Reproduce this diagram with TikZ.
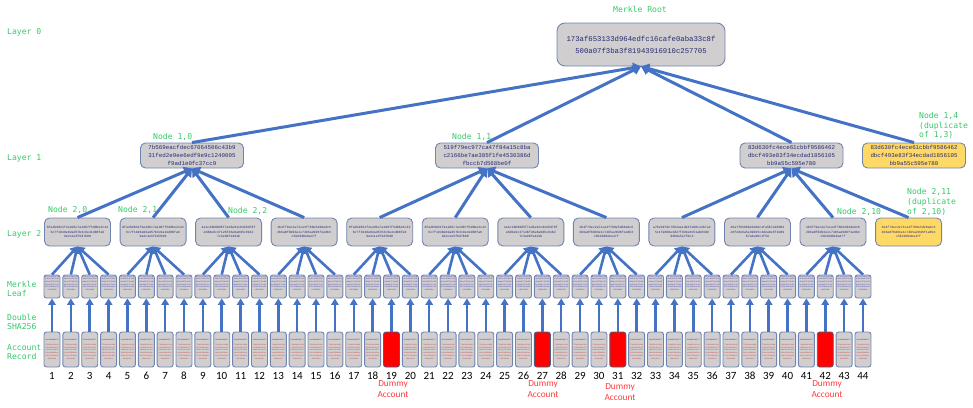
\documentclass[tikz,border=0pt]{standalone}
\usepackage{fontspec}
\setmainfont{Carlito}
\newfontfamily\monof{DejaVu Sans Mono}
\newfontfamily\hashf{Liberation Mono}
\usetikzlibrary{arrows.meta}
\definecolor{lbl}{RGB}{55,200,105}
\definecolor{boxfill}{RGB}{208,206,206}
\definecolor{boxline}{RGB}{112,132,178}
\definecolor{arr}{RGB}{68,114,196}
\definecolor{hash}{RGB}{40,40,115}
\definecolor{leaftxt}{RGB}{80,70,170}
\definecolor{yel}{RGB}{255,217,102}
\definecolor{dum}{RGB}{255,0,0}
\definecolor{dumtxt}{RGB}{255,60,60}
\definecolor{rectxt}{RGB}{210,60,60}
\begin{document}
\begin{tikzpicture}[x=1pt,y=-1pt,
  hbox/.style={draw=boxline, fill=boxfill, line width=0.9pt, inner sep=0pt, align=center, text=hash},
  rootbox/.style={hbox, rounded corners=8pt, minimum width=168pt, minimum height=43pt, font=\hashf\fontsize{7.3}{12}\selectfont},
  onebox/.style={hbox, rounded corners=5pt, minimum width=103pt, minimum height=25pt, font=\hashf\fontsize{5.8}{8}\selectfont},
  twobox/.style={hbox, rounded corners=5pt, minimum width=66pt, minimum height=28pt, font=\hashf\fontsize{3.2}{4.6}\selectfont},
  leafbox/.style={hbox, rounded corners=2.5pt, minimum width=16pt, minimum height=23pt, text=leaftxt, font=\hashf\fontsize{1.9}{2.7}\selectfont},
  recbox/.style={hbox, rounded corners=2.5pt, minimum width=16pt, minimum height=35pt, font=\hashf\fontsize{1.8}{2.8}\selectfont},
  dumbox/.style={recbox, fill=dum, draw=boxline!70!black},
  lbltext/.style={text=lbl, font=\monof\fontsize{8.1}{9.8}\selectfont, align=left, anchor=west, inner sep=0pt},
  numtext/.style={font=\fontsize{11}{12}\selectfont, inner sep=0pt},
  dumlbl/.style={text=dumtxt, font=\fontsize{9.3}{10.5}\selectfont, align=center, inner sep=0pt},
  bigarrow/.style={draw=arr, line width=3pt, -{Triangle[length=8pt,width=10pt]}},
  midarrow/.style={draw=arr, line width=2.6pt, -{Triangle[length=7pt,width=8.5pt]}},
  smallarrow/.style={draw=arr, line width=2.5pt, -{Triangle[length=6.5pt,width=7.5pt]}}
]
\useasboundingbox (0,0) rectangle (973,407);

% ---------- Layer 0 ----------
\node[rootbox] (root) at (641,44.5) {173af653133d964edfc16cafe0aba33c8f\\500a07f3ba3f81943916910c257705};
\node[lbltext, anchor=center] (rootlbl) at (640,9.5) {Merkle Root};

% ---------- Layer 1 ----------
\node[onebox] (p0) at (192,155.5) {7b569eacfdec67064506c43b9\\31fed2e9ee6edf9e9c1240005\\f9ad1e0fc37cc9};
\node[onebox] (p1) at (487,155.5) {519f79ec977ca47f84a15c8ba\\c2166be7ae385f1fe4530386d\\fbccb7d568be0f};
\node[onebox] (p3) at (791.5,155.5) {83d630fc4ece61cbbf9586462\\dbcf493e83f34ecdad1856105\\bb9a55c595e780};
\node[onebox, fill=yel] (p4) at (914,155.5) {83d630fc4ece61cbbf9586462\\dbcf493e83f34ecdad1856105\\bb9a55c595e780};

% ---------- Layer 2 ----------
\node[twobox] (m0) at (77.5,232) {8fa2b9831f4e2d6c7a1907f5d8be3c42\\6c7f1948e02ad57b3c9e41d08fa6\\9a3c1e5f6d7b08};
\node[twobox] (m1) at (153.05,232) {8fa2b9831f4e2d6c7a1907f5d8be3c42\\6c7f1948e02ad57b3c9e41d08fa6\\9a3c1e5f6d7b08};
\node[twobox] (m2) at (228.6,232) {4e1c29b08d5f7a36e91c042bd78f\\a5d0e9c3712bf46e8a0d5c91b2\\7c3e90fa4d1b};
\node[twobox] (m3) at (304.15,232) {1b4f79ec2e71ca3f7b0e5d28a9c6\\2b6a0f8d93e1c74b5a20d6f1e8b3\\c5b29d0eba47f};
\node[twobox] (m4) at (379.7,232) {8fa2b9831f4e2d6c7a1907f5d8be3c42\\6c7f1948e02ad57b3c9e41d08fa6\\9a3c1e5f6d7b08};
\node[twobox] (m5) at (455.25,232) {8fa2b9831f4e2d6c7a1907f5d8be3c42\\6c7f1948e02ad57b3c9e41d08fa6\\9a3c1e5f6d7b08};
\node[twobox] (m6) at (530.8,232) {4e1c29b08d5f7a36e91c042bd78f\\a5d0e9c3712bf46e8a0d5c91b2\\7c3e90fa4d1b};
\node[twobox] (m7) at (606.35,232) {1b4f79ec2e71ca3f7b0e5d28a9c6\\2b6a0f8d93e1c74b5a20d6f1e8b3\\c5b29d0eba47f};
\node[twobox] (m8) at (681.9,232) {a76218f9c75b3ae1d94fe08c13b7a2\\5c1fa0b8e3d27f946e0c51ab83d9\\d2b8e5a7f0c3};
\node[twobox] (m9) at (757.45,232) {25a7f826b0e3d94c1fa5b7e20d83\\c8f2d16a5e39b07c4d2a8e5f1b09\\b7a4e06c1f59};
\node[twobox] (m10) at (833,232) {1b4f79ec2e71ca3f7b0e5d28a9c6\\2b6a0f8d93e1c74b5a20d6f1e8b3\\c5b29d0eba47f};
\node[twobox, fill=yel] (m11) at (908.55,232) {1b4f79ec2e71ca3f7b0e5d28a9c6\\2b6a0f8d93e1c74b5a20d6f1e8b3\\c5b29d0eba47f};

% ---------- Leaves, records, numbers ----------
\foreach \i in {1,...,44}{
  \pgfmathsetmacro\xx{52+(\i-1)*18.86}
  \pgfmathtruncatemacro\dm{or(or(\i==19,\i==27),or(\i==31,\i==42))}
  \node[leafbox] (l\i) at (\xx,286.5) {3fa9c21be07d\\5a6c91b4f028\\d6ae33715c08\\be94a2f17c3e\\90fa4d1b6e2a\\c5b29d0e\\[4pt]};
  \ifnum\dm=1
    \node[dumbox] (r\i) at (\xx,349.5) {};
  \else
    \node[recbox] (r\i) at (\xx,349.5) {{\color{hash}0c6e9b2d41f7}\\[1.5pt]{\color{rectxt}73ab5e0c19d4}\\{\color{rectxt}e2f8a61b3c07}\\{\color{rectxt}9d45c0a7e8f2}\\{\color{rectxt}b16e03d9a54c}\\{\color{rectxt}f0a7c25e91b3}\\{\color{rectxt}48d1e6b0}};
  \fi
  \node[numtext] (n\i) at (\xx,376) {\i};
  \draw[smallarrow] (r\i.north) -- (l\i.south);
}

% leaves -> layer 2
\foreach \j in {0,...,10}{
  \foreach \k in {1,...,4}{
    \pgfmathtruncatemacro\li{4*\j+\k}
    \draw[midarrow] (l\li.north) -- (m\j.south);
  }
}

% layer 2 -> layer 1
\foreach \j in {0,...,3}{ \draw[bigarrow] (m\j.north) -- (p0.south); }
\foreach \j in {4,...,7}{ \draw[bigarrow] (m\j.north) -- (p1.south); }
\foreach \j in {8,...,11}{ \draw[bigarrow] (m\j.north) -- (p3.south); }

% layer 1 -> root
\foreach \p in {p0,p1,p3,p4}{ \draw[bigarrow] (\p.north) -- (root.south); }

% ---------- labels ----------
\node[lbltext] (lay0) at (7,32) {Layer 0};
\node[lbltext] (lay1) at (7,158) {Layer 1};
\node[lbltext] (lay2) at (7,234) {Layer 2};
\node[lbltext] (leaflbl) at (7,289) {Merkle\\Leaf};
\node[lbltext] (shalbl) at (7,322) {Double\\SHA256};
\node[lbltext] (reclbl) at (7,352) {Account\\Record};

\node[lbltext] (n10) at (153,137) {Node 1,0};
\node[lbltext] (n11) at (452,137) {Node 1,1};
\node[lbltext] (n14) at (919,125.5) {Node 1,4\\(duplicate\\of 1,3)};
\node[lbltext] (n20) at (48,210) {Node 2,0};
\node[lbltext] (n21) at (118,210) {Node 2,1};
\node[lbltext] (n22) at (228,211) {Node 2,2};
\node[lbltext] (n210) at (837,212) {Node 2,10};
\node[lbltext] (n211) at (907,202) {Node 2,11\\(duplicate\\of 2,10)};

\node[dumlbl] (d19) at (393,389) {Dummy\\Account};
\node[dumlbl] (d27) at (543,389) {Dummy\\Account};
\node[dumlbl] (d31) at (620,392) {Dummy\\Account};
\node[dumlbl] (d42) at (827,389) {Dummy\\Account};
\end{tikzpicture}
\end{document}
